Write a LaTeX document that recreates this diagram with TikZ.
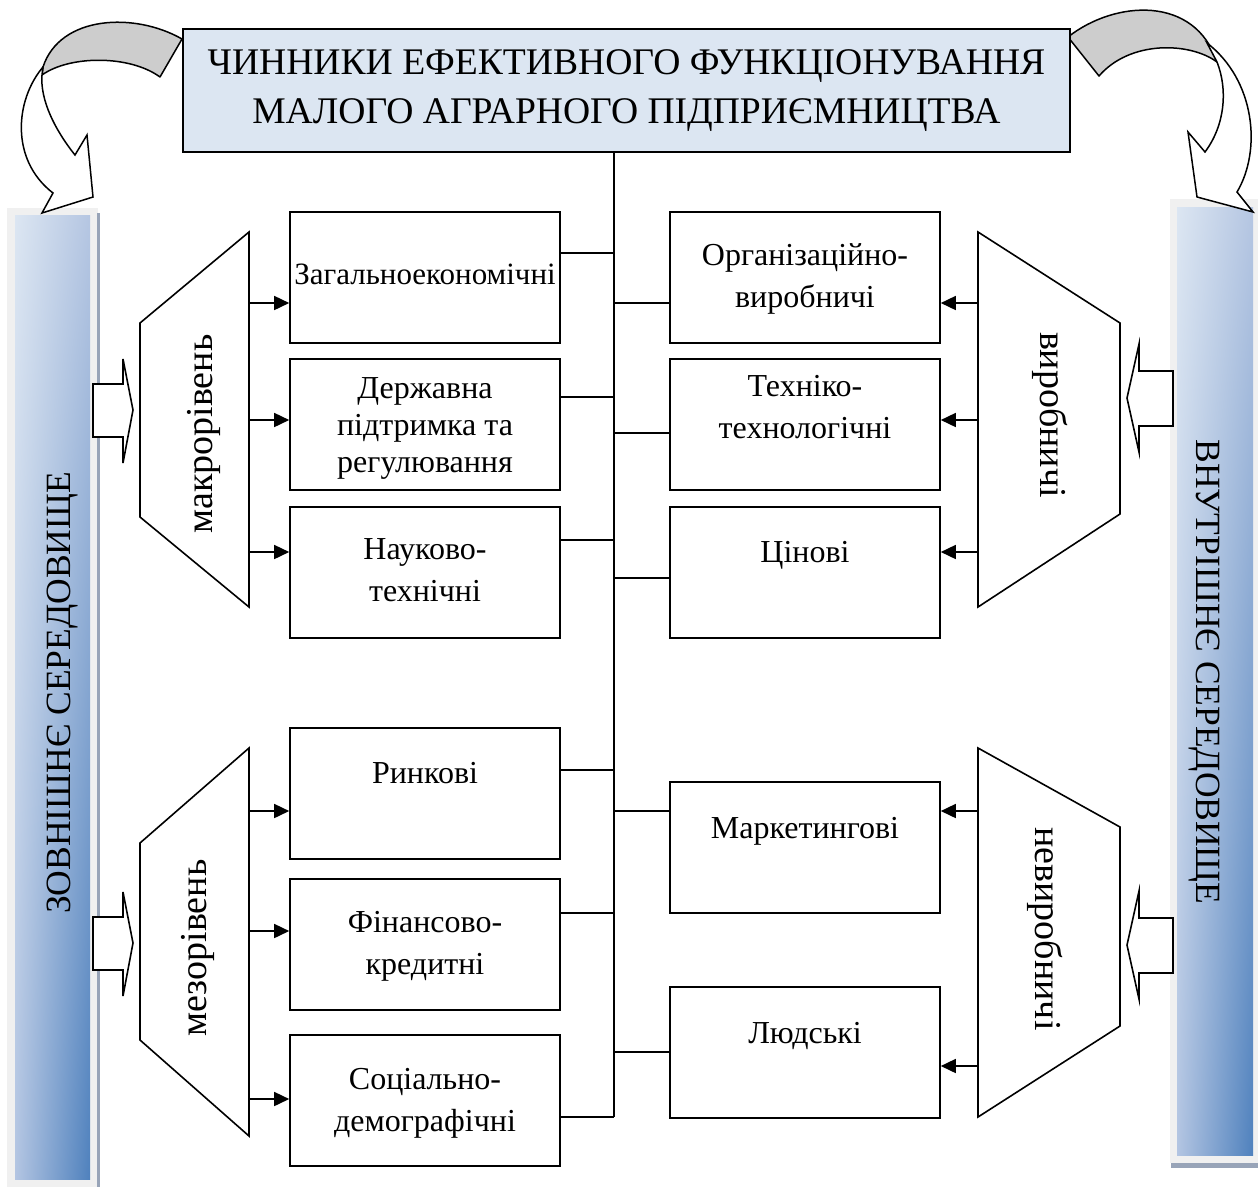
\documentclass[tikz,border=0pt]{standalone}
\usepackage{fontspec}
\setmainfont{Liberation Serif}
\usetikzlibrary{arrows.meta,shadings}
\definecolor{titlefill}{HTML}{DCE6F2}
\definecolor{bandgray}{HTML}{CDCDCD}
\definecolor{barframe}{HTML}{F0F0F0}
\definecolor{barshadow}{HTML}{98A4B8}
\definecolor{gUL}{HTML}{DCE6F2}
\definecolor{gUR}{HTML}{B5C6E2}
\definecolor{gLL}{HTML}{B3C5E2}
\definecolor{gLR}{HTML}{4F81BD}
\tikzset{
  fbox/.style={draw, line width=1.6pt, minimum width=270pt, minimum height=131pt, inner sep=0pt, fill=white},
  ftxt/.style={align=center, font=\fontsize{32}{42}\selectfont, inner sep=0pt},
  link/.style={line width=1.6pt},
  arr/.style={line width=1.6pt, -{Triangle[length=15pt,width=14pt]}},
  trap/.style={draw, line width=1.6pt, line join=miter},
  blockarrow/.style={draw, line width=1.6pt, fill=white, line join=miter},
  curveback/.style={draw, line width=1.5pt, fill=bandgray, line join=round},
  curvefront/.style={draw, line width=1.5pt, fill=white, line join=miter},
  trapfont/.style={font=\fontsize{38}{42}\selectfont, inner sep=0pt},
  barfont/.style={font=\fontsize{35.5}{40}\selectfont, inner sep=0pt},
  barshade/.style={upper left=gUL, upper right=gUR, lower left=gLL, lower right=gLR},
}
\begin{document}
\begin{tikzpicture}[x=1pt,y=-1pt]
\useasboundingbox (0,0) rectangle (1258,1187);

% side bars
\fill[barframe] (7,208) rectangle (98,1187);
\fill[barshadow] (97,213) rectangle (100,1187);
\shade[barshade] (15,215) rectangle (90,1179);
\fill[barframe] (1170,199) rectangle (1258,1163);
\fill[barshadow] (1171,1163) rectangle (1258,1168);
\shade[barshade] (1177,207) rectangle (1253,1155);

\node[barfont, rotate=90, anchor=base] (extT) at (70,693) {ЗОВНІШНЄ СЕРЕДОВИЩЕ};
\node[barfont, rotate=-90, anchor=base] (intT) at (1196,672) {ВНУТРІШНЄ СЕРЕДОВИЩЕ};

% curved arrows
\draw[curveback] (182,39) .. controls (135,12) and (60,15) .. (43,67) -- (42,75)
  .. controls (70,55) and (130,55) .. (160,77) -- cycle;
\draw[curvefront] (43,67) .. controls (15,100) and (10,160) .. (53,193) -- (42,213) -- (93,197)
  -- (87,135) -- (75,155) .. controls (55,130) and (40,100) .. (42,75) -- cycle;
\draw[curveback] (1068,37) .. controls (1115,0) and (1195,-5) .. (1217,62)
  .. controls (1190,42) and (1130,40) .. (1099,76) -- cycle;
\draw[curvefront] (1207,43) .. controls (1255,80) and (1262,150) .. (1237,192) -- (1253,212)
  -- (1197,197) -- (1188,132) -- (1205,152) .. controls (1225,125) and (1228,90) .. (1217,62) -- cycle;

% title
\node[draw, line width=1.6pt, fill=titlefill, minimum width=887pt, minimum height=123pt,
  inner sep=0pt, align=center, font=\fontsize{37.6}{49}\selectfont] (title) at (626.5,90.5)
  {ЧИННИКИ ЕФЕКТИВНОГО ФУНКЦІОНУВАННЯ\\МАЛОГО АГРАРНОГО ПІДПРИЄМНИЦТВА};

% boxes
\node[fbox, label={[ftxt, font=\fontsize{31}{42}\selectfont, name=L1t, yshift=3pt]center:Загальноекономічні}] (L1) at (425,277.5) {};
\node[fbox, label={[ftxt, font=\fontsize{32}{37}\selectfont, name=L2t, yshift=-3.5pt]center:{Державна\\підтримка та\\регулювання}}] (L2) at (425,424.5) {};
\node[fbox, label={[ftxt, name=L3t, yshift=2pt]center:{Науково-\\технічні}}] (L3) at (425,572.5) {};
\node[fbox, label={[ftxt, name=L4t, yshift=20pt]center:Ринкові}] (L4) at (425,793.5) {};
\node[fbox, label={[ftxt, name=L5t, yshift=-2pt]center:{Фінансово-\\кредитні}}] (L5) at (425,944.5) {};
\node[fbox, label={[ftxt, name=L6t, yshift=-2.5pt]center:{Соціально-\\демографічні}}] (L6) at (425,1100.5) {};

\node[fbox, label={[ftxt, name=R1t, yshift=-1.5pt]center:{Організаційно-\\виробничі}}] (R1) at (805,277.5) {};
\node[fbox, label={[ftxt, name=R2t, yshift=17.5pt]center:{Техніко-\\технологічні}}] (R2) at (805,424.5) {};
\node[fbox, label={[ftxt, name=R3t, yshift=17pt]center:Цінові}] (R3) at (805,572.5) {};
\node[fbox, label={[ftxt, name=R4t, yshift=16.5pt]center:Маркетингові}] (R4) at (805,847.5) {};
\node[fbox, label={[ftxt, name=R5t, yshift=16.5pt]center:Людські}] (R5) at (805,1052.5) {};

% trunk and links
\coordinate (trunkEnd) at (614,1117);
\draw[link] (title.south -| trunkEnd) -- (trunkEnd);
\coordinate (l1) at ([yshift=24.5pt]L1.east);
\coordinate (l2) at ([yshift=27.5pt]L2.east);
\coordinate (l3) at ([yshift=32.5pt]L3.east);
\coordinate (l4) at ([yshift=23.5pt]L4.east);
\coordinate (l5) at ([yshift=31.5pt]L5.east);
\coordinate (l6) at ([yshift=-16.5pt]L6.east);
\foreach \c in {l1,l2,l3,l4,l5,l6} \draw[link] (\c) -- (\c -| trunkEnd);
\coordinate (r1) at ([yshift=-25.5pt]R1.west);
\coordinate (r2) at ([yshift=-8.5pt]R2.west);
\coordinate (r3) at ([yshift=-5.5pt]R3.west);
\coordinate (r4) at ([yshift=36.5pt]R4.west);
\coordinate (r5) at ([yshift=0.5pt]R5.west);
\foreach \c in {r1,r2,r3,r4,r5} \draw[link] (\c -| trunkEnd) -- (\c);

% trapezoids
\coordinate (maR) at (249,232);
\coordinate (meR) at (249,748);
\coordinate (prL) at (978,232);
\coordinate (npL) at (978,748);
\draw[trap] (maR) -- (249,607) -- (140,517) -- (140,323) -- cycle;
\draw[trap] (meR) -- (249,1136) -- (140,1040) -- (140,843) -- cycle;
\draw[trap] (prL) -- (978,607) -- (1120,514) -- (1120,323) -- cycle;
\draw[trap] (npL) -- (978,1117) -- (1120,1026) -- (1120,827) -- cycle;
\node[trapfont, rotate=90, anchor=base] (maT) at (212,434) {макрорівень};
\node[trapfont, rotate=90, anchor=base] (meT) at (206,948) {мезорівень};
\node[trapfont, rotate=-90, anchor=base] (prT) at (1040,415) {виробничі};
\node[trapfont, rotate=-90, anchor=base] (npT) at (1035,929) {невиробничі};

% arrows trapezoid -> boxes
\coordinate (a1) at ([yshift=-25.5pt]L1.west);
\coordinate (a2) at ([yshift=4.5pt]L2.west);
\coordinate (a3) at ([yshift=20.5pt]L3.west);
\foreach \c in {a1,a2,a3} \draw[arr] (\c -| maR) -- (\c);
\coordinate (a4) at ([yshift=-17.5pt]L4.west);
\coordinate (a5) at ([yshift=13.5pt]L5.west);
\coordinate (a6) at ([yshift=1.5pt]L6.west);
\foreach \c in {a4,a5,a6} \draw[arr] (\c -| meR) -- (\c);
\coordinate (b1) at ([yshift=-25.5pt]R1.east);
\coordinate (b2) at ([yshift=4.5pt]R2.east);
\coordinate (b3) at ([yshift=20.5pt]R3.east);
\foreach \c in {b1,b2,b3} \draw[arr] (\c -| prL) -- (\c);
\coordinate (b4) at ([yshift=36.5pt]R4.east);
\coordinate (b5) at ([yshift=-13.5pt]R5.east);
\foreach \c in {b4,b5} \draw[arr] (\c -| npL) -- (\c);

% block arrows from bars
\draw[blockarrow] (93,384) -- (123,384) -- (123,359) -- (133,410) -- (123,463) -- (123,437) -- (93,437) -- cycle;
\draw[blockarrow] (93,917) -- (123,917) -- (123,892) -- (133,943) -- (123,996) -- (123,970) -- (93,970) -- cycle;
\draw[blockarrow] (1173,371) -- (1139,371) -- (1139,344) -- (1127,398) -- (1139,452) -- (1139,426) -- (1173,426) -- cycle;
\draw[blockarrow] (1173,918) -- (1139,918) -- (1139,891) -- (1127,945) -- (1139,999) -- (1139,973) -- (1173,973) -- cycle;
\end{tikzpicture}
\end{document}
